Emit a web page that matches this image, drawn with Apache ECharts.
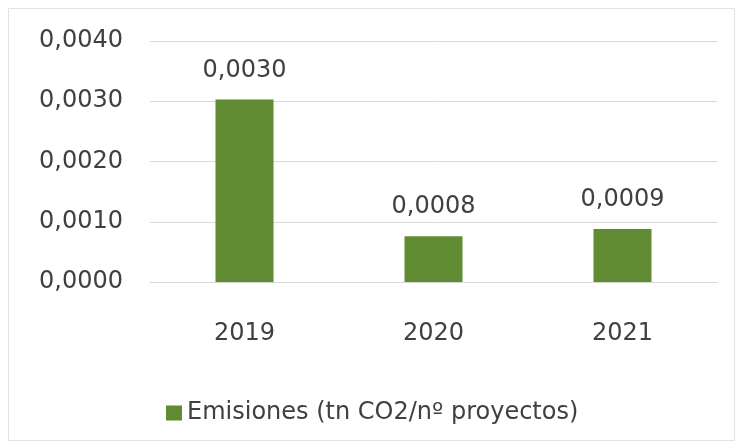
<!DOCTYPE html>
<html>
<head>
<meta charset="utf-8">
<script src="https://cdn.jsdelivr.net/npm/echarts@6/dist/echarts.min.js"></script>
<style>
  html, body { margin: 0; padding: 0; background: #fff; }
  #chart { width: 738px; height: 447px; }
</style>
</head>
<body>
<div id="chart"></div>
<script>
// datos
const years = ['2019', '2020', '2021']
const emisiones = [0.00303, 0.00076, 0.00088]
const seriesName = 'Emisiones (tn CO2/nº proyectos)'

const fmt = (v) => v.toFixed(4).replace('.', ',')

const chart = echarts.init(document.getElementById('chart'))

const textColor = '#404040'
const font = 'DejaVu Sans'

chart.setOption({
  backgroundColor: '#fff',
  animation: false,
  graphic: [
    {
      type: 'rect',
      shape: { x: 8.5, y: 8.5, width: 726, height: 432 },
      style: { fill: 'none', stroke: '#e3e3e3', lineWidth: 1 },
      silent: true,
    },
  ],
  grid: {
    left: 150,
    right: 21,
    top: 41,
    bottom: 165,
  },
  legend: {
    top: 396,
    left: 161,
    itemWidth: 16,
    itemHeight: 15,
    itemGap: 4,
    icon: 'rect',
    textStyle: {
      color: textColor,
      fontFamily: font,
      fontSize: 24,
    },
    data: [seriesName],
  },
  xAxis: {
    type: 'category',
    data: years,
    axisLine: { show: true, lineStyle: { color: '#d9d9d9', width: 1 } },
    axisTick: { show: false },
    axisLabel: {
      color: textColor,
      fontFamily: font,
      fontSize: 24,
      margin: 40,
    },
  },
  yAxis: {
    type: 'value',
    min: 0,
    max: 0.004,
    interval: 0.001,
    axisLine: { show: false },
    axisTick: { show: false },
    splitLine: { lineStyle: { color: '#d9d9d9', width: 1 } },
    axisLabel: {
      color: textColor,
      fontFamily: font,
      fontSize: 24,
      margin: 27,
      formatter: (v) => fmt(v),
    },
  },
  series: [
    {
      name: seriesName,
      type: 'bar',
      data: emisiones,
      barWidth: 58,
      itemStyle: { color: '#608b32' },
      label: {
        show: true,
        position: 'top',
        distance: 17,
        color: textColor,
        fontFamily: font,
        fontSize: 24,
        formatter: (p) => fmt(p.value),
      },
    },
  ],
})
</script>
</body>
</html>
